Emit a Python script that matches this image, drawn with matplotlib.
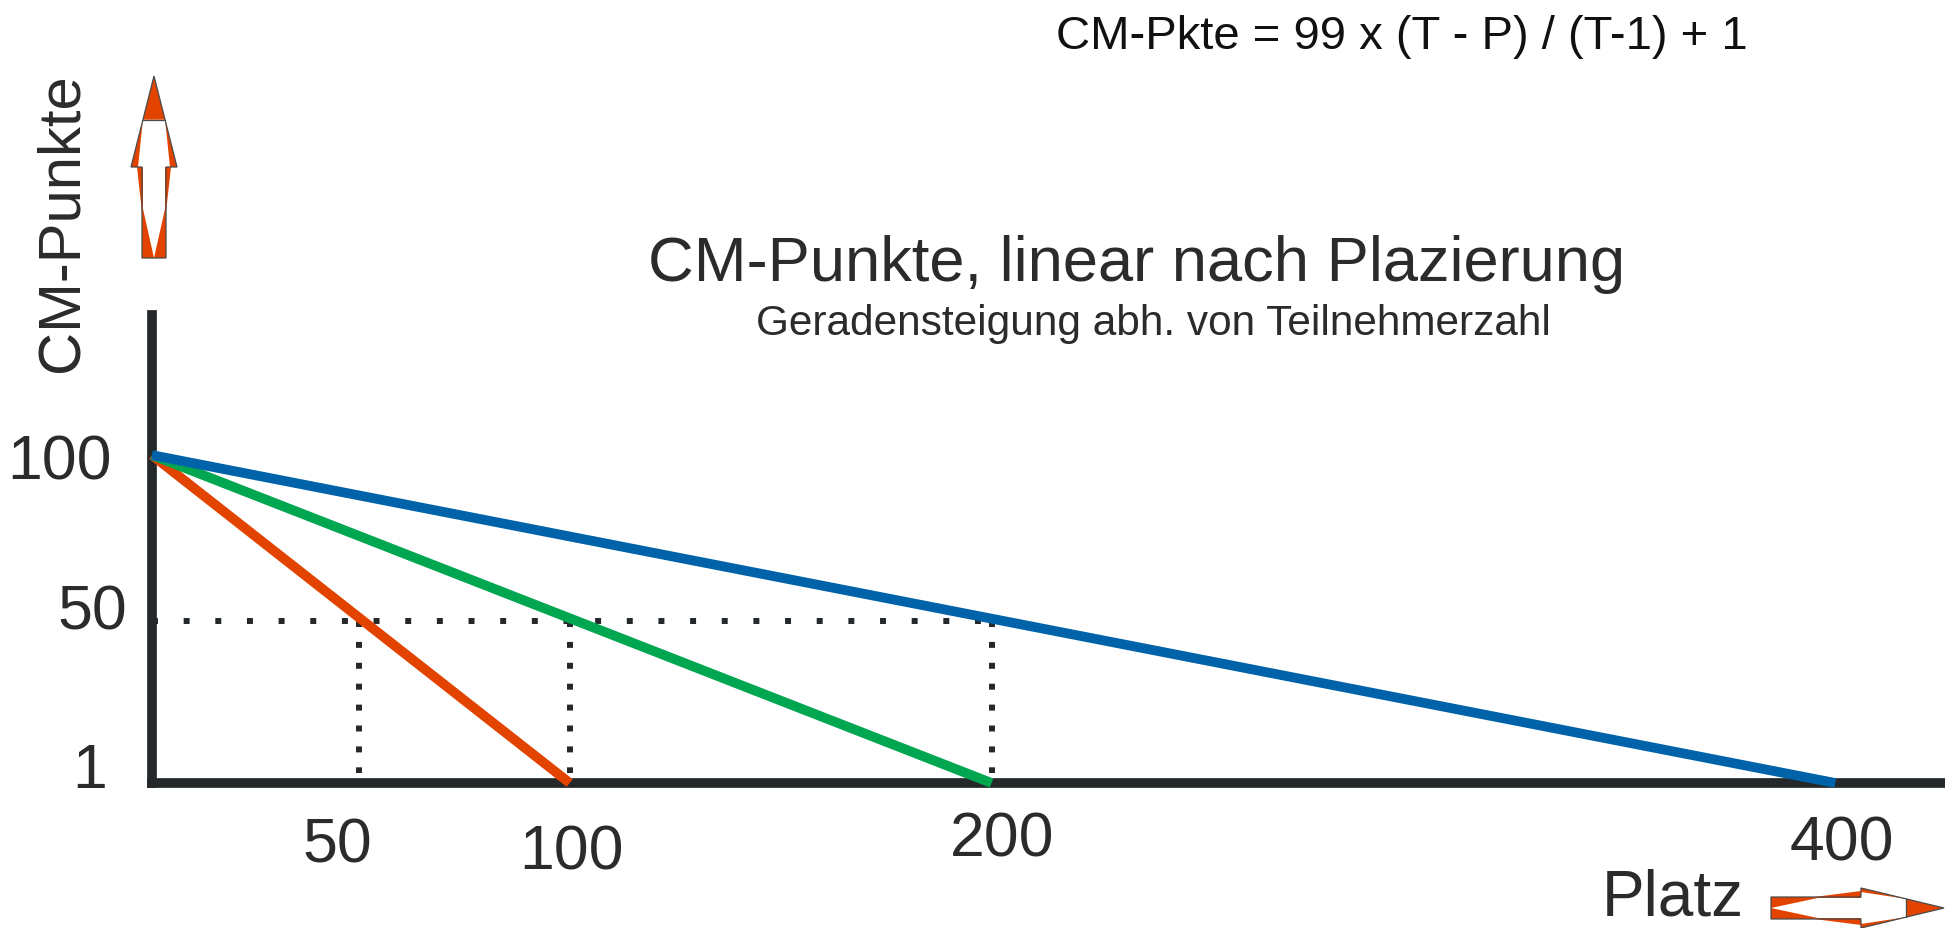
import matplotlib
matplotlib.use('Agg')
import matplotlib.pyplot as plt
from matplotlib.patches import Polygon
from matplotlib.transforms import blended_transform_factory, offset_copy

plt.rcParams['font.family'] = ['Liberation Sans', 'DejaVu Sans']

# data
platz_t100 = [1, 100]
platz_t200 = [1, 200]
platz_t400 = [1, 400]
cm_pkte = [100, 1]
linien = [platz_t100, platz_t200, platz_t400]
farben = ['#e24400', '#00a650', '#0063a9']

halb_platz = [50, 100, 200]   # where the lines reach 50 points
halb_pkte = 50

x_ticks = [50, 100, 200, 400]
y_ticks = [1, 50, 100]

W, H = 1945, 929
dark = '#25282a'
txt = '#2b2b2b'
orange = '#e24400'

fig = plt.figure(figsize=(W / 100, H / 100), dpi=100)

# main axes, placed in pixels
ax = fig.add_axes([152 / W, 145 / H, (W - 152) / W, 468 / H])
ax.set_xlim(1, 426)
ax.set_ylim(1, 142.3)

for p, c in zip(linien, farben):
    ax.plot(p, cm_pkte, color=c, lw=7.0, solid_capstyle='butt',
            zorder=4, clip_on=False)

# dotted helper lines
ax.plot([1, max(halb_platz)], [halb_pkte, halb_pkte], color=dark, lw=4.3,
        dashes=(1, 4.3), dash_capstyle='butt', zorder=3)
for p in halb_platz:
    ax.plot([p, p], [halb_pkte, 4], color=dark, lw=4.3,
            dashes=(1, 2.5), dash_capstyle='butt', zorder=3)

for s in ['top', 'right']:
    ax.spines[s].set_visible(False)
for s in ['left', 'bottom']:
    ax.spines[s].set_linewidth(7.0)
    ax.spines[s].set_color(dark)
    ax.spines[s].set_capstyle('projecting')

ax.set_xticks(x_ticks)
ax.set_yticks(y_ticks)
ax.set_xticklabels([])
ax.set_yticklabels([])
ax.tick_params(axis='both', length=0)

# tick labels, hand nudged a little like in the drawing (offsets in pixels)
x_nudge = [(-21, 0), (2, -7), (11, 6), (7, 2)]
y_nudge = [(-11, 12), (9, 9), (-6, -7)]
tx = blended_transform_factory(ax.transData, ax.transAxes)
ty = blended_transform_factory(ax.transAxes, ax.transData)
for v, (dx, dy) in zip(x_ticks, x_nudge):
    tr = offset_copy(tx, fig=fig, x=dx, y=-62 + dy, units='dots')
    ax.text(v, 0, str(v), transform=tr, fontsize=45, color=txt,
            ha='center', va='center')
for v, (dx, dy) in zip(y_ticks, y_nudge):
    tr = offset_copy(ty, fig=fig, x=-34 + dx, y=dy, units='dots')
    ax.text(0, v, str(v), transform=tr, fontsize=45, color=txt,
            ha='right', va='center')

# overlay in pixel coords for texts and arrows
ov = fig.add_axes([0, 0, 1, 1])
ov.set_xlim(0, W)
ov.set_ylim(H, 0)
ov.axis('off')

ov.text(1402, 37, 'CM-Pkte = 99 x (T - P) / (T-1) + 1', fontsize=34,
        color='#111111', ha='center', va='center')
ov.text(1137, 264, 'CM-Punkte, linear nach Plazierung', fontsize=45.5,
        color=txt, ha='center', va='center')
ov.text(1153, 324, 'Geradensteigung abh. von Teilnehmerzahl', fontsize=30.5,
        color=txt, ha='center', va='center')
ov.text(62, 223, 'CM-Punkte', fontsize=43, color=txt, rotation=90,
        ha='center', va='center')
ov.text(1744, 899, 'Platz', fontsize=46, color=txt, ha='right', va='center')


def pfeil(tail, tip, t, h, s, hb=0.5, flat=0.76):
    # two-tone arrow: orange outer arrow with a white inner wedge
    (x0, y0), (x1, y1) = tail, tip
    dx, dy = x1 - x0, y1 - y0
    n = (dx * dx + dy * dy) ** 0.5
    px, py = -dy / n, dx / n

    def m(u, v):
        return (x0 + dx * u + px * v, y0 + dy * u + py * v)

    outer = [m(0, -t), m(0.25, -t), m(hb, -s), m(hb, -h), m(1, 0),
             m(hb, h), m(hb, s), m(0.25, t), m(0, t)]
    wf = h * (1 - flat) / (1 - hb)
    inner = [m(0, 0), m(0.27, -t + 1), m(hb, -t + 1), m(hb, -s + 1),
             m(flat, -wf), m(flat, wf), m(hb, s - 1), m(hb, t - 1), m(0.27, t - 1)]
    ov.add_patch(Polygon(outer, closed=True, fc=orange, ec='none'))
    ov.add_patch(Polygon(inner, closed=True, fc='white', ec='none'))
    rim = [m(hb, -t), m(0, -t), m(0, t), m(hb, t), m(hb, h), m(1, 0),
           m(hb, -h), m(hb, -t)]
    ov.add_patch(Polygon(rim, closed=True, fill=False, ec='#4a4a4a', lw=0.9))
    ov.plot(*zip(m(flat, -wf), m(flat, wf)), color='#4a4a4a', lw=0.9)


pfeil((154, 259), (154, 77), t=12, h=23, s=17)
pfeil((1771, 909), (1944, 909), t=11, h=20, s=17, hb=0.52, flat=0.78)

fig.savefig('out.png', dpi=100)
